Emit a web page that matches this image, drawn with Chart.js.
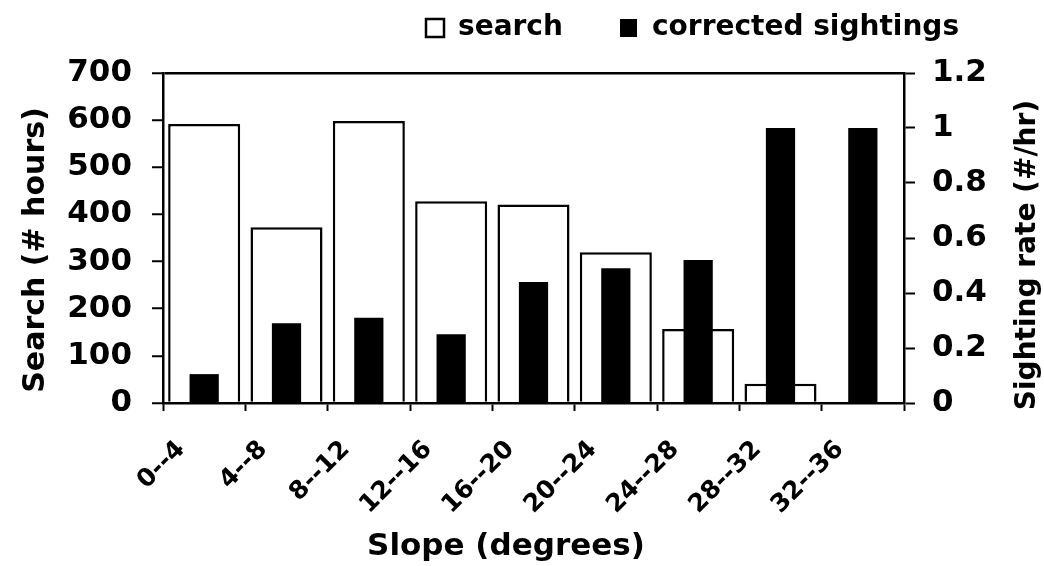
<!DOCTYPE html>
<meta charset="utf-8">
<style>
	html, body { margin: 0; padding: 0; background: #fff; }
	#wrap { width: 1044px; height: 566px; }
</style>
<body>
	<script src="https://cdn.jsdelivr.net/npm/chart.js@4/dist/chart.umd.min.js"></script>

	<div id="wrap"><canvas id="slopeChart"></canvas></div>

	<script>
		// values
		var slopeClasses = ['0--4', '4--8', '8--12', '12--16', '16--20', '20--24', '24--28', '28--32', '32--36'];
		var searchHours = [592, 373, 598, 428, 421, 320, 157, 41, 0];
		var sightingRate = [0.105, 0.29, 0.31, 0.25, 0.44, 0.49, 0.52, 1.0, 1.0];
		var leftTicks = [0, 100, 200, 300, 400, 500, 600, 700];
		var rightTicks = [0, 0.2, 0.4, 0.6, 0.8, 1, 1.2];
		var xTitle = 'Slope (degrees)';
		var leftTitle = 'Search (# hours)';
		var rightTitle = 'Sighting rate (#/hr)';

		var FONT = 'DejaVu Sans';
		Chart.defaults.font.family = FONT;
		Chart.defaults.font.weight = 'bold';
		Chart.defaults.color = '#000';

		// legend and axis titles placed like the original (right title reads bottom-up too)
		var extras = {
			id: 'extras',
			afterDraw: function(chart) {
				var c = chart.ctx;
				var ds = chart.data.datasets;
				c.save();
				c.fillStyle = '#000';
				c.strokeStyle = '#000';

				// legend
				c.font = 'bold 28px ' + FONT;
				c.textBaseline = 'middle';
				c.textAlign = 'left';
				c.lineWidth = 2.5;
				c.strokeRect(426, 19, 18, 18);
				c.fillText(ds[0].label, 458, 28);
				c.fillRect(620, 19, 17, 18);
				c.fillText(ds[1].label, 652, 28);

				// x title
				c.textBaseline = 'alphabetic';
				c.textAlign = 'center';
				c.font = 'bold 31px ' + FONT;
				c.fillText(xTitle, 506, 555);

				// left title
				c.save();
				c.translate(44, 250);
				c.rotate(-Math.PI / 2);
				c.font = 'bold 30px ' + FONT;
				c.fillText(leftTitle, 0, 0);
				c.restore();

				// right title
				c.save();
				c.translate(1035, 255);
				c.rotate(-Math.PI / 2);
				c.font = 'bold 28px ' + FONT;
				c.fillText(rightTitle, 0, 0);
				c.restore();

				c.restore();
			}
		};

		var ctx = document.getElementById('slopeChart');
		var chart = new Chart(ctx, {
			type: 'bar',
			data: {
				labels: slopeClasses,
				datasets: [{
					label: 'search',
					data: searchHours,
					yAxisID: 'y',
					backgroundColor: '#fff',
					borderColor: '#000',
					borderWidth: 2.5,
					grouped: false,
					order: 2,
					categoryPercentage: 1,
					barPercentage: 0.875
				}, {
					label: 'corrected sightings',
					data: sightingRate,
					yAxisID: 'y2',
					backgroundColor: '#000',
					borderWidth: 0,
					grouped: false,
					order: 1,
					categoryPercentage: 1,
					barPercentage: 0.355
				}]
			},
			options: {
				responsive: true,
				maintainAspectRatio: false,
				animation: false,
				layout: { padding: { top: 73, left: 0, right: 0, bottom: 0 } },
				plugins: {
					legend: { display: false },
					tooltip: { enabled: false }
				},
				scales: {
					x: {
						offset: true,
						grid: {
							offset: true,
							drawOnChartArea: false,
							tickLength: 8,
							tickColor: '#000',
							tickWidth: 2
						},
						border: { display: true, color: '#000', width: 2.5 },
						ticks: {
							font: { size: 25 },
							maxRotation: 45,
							minRotation: 45,
							autoSkip: false,
							padding: 24,
							labelOffset: -23
						},
						afterFit: function(s) { s.height = 163; }
					},
					y: {
						position: 'left',
						min: 0,
						max: 700,
						afterBuildTicks: function(s) { s.ticks = leftTicks.map(function(v) { return { value: v }; }); },
						grid: {
							drawOnChartArea: true,
							color: function(c) { return c.tick && c.tick.value === 700 ? '#000' : 'rgba(0,0,0,0)'; },
							lineWidth: 2.5,
							tickLength: 11,
							tickColor: '#000',
							tickWidth: 2
						},
						border: { display: true, color: '#000', width: 2.5 },
						ticks: { font: { size: 31 }, padding: 20 },
						afterFit: function(s) { s.width = 163; }
					},
					y2: {
						position: 'right',
						min: 0,
						max: 1.2,
						afterBuildTicks: function(s) { s.ticks = rightTicks.map(function(v) { return { value: v }; }); },
						grid: {
							drawOnChartArea: false,
							tickLength: 11,
							tickColor: '#000',
							tickWidth: 2
						},
						border: { display: true, color: '#000', width: 2.5 },
						ticks: {
							font: { size: 31 },
							padding: 17,
							callback: function(v) { return String(Math.round(v * 10) / 10); }
						},
						afterFit: function(s) { s.width = 140; }
					}
				}
			},
			plugins: [extras]
		});
	</script>
</body>
